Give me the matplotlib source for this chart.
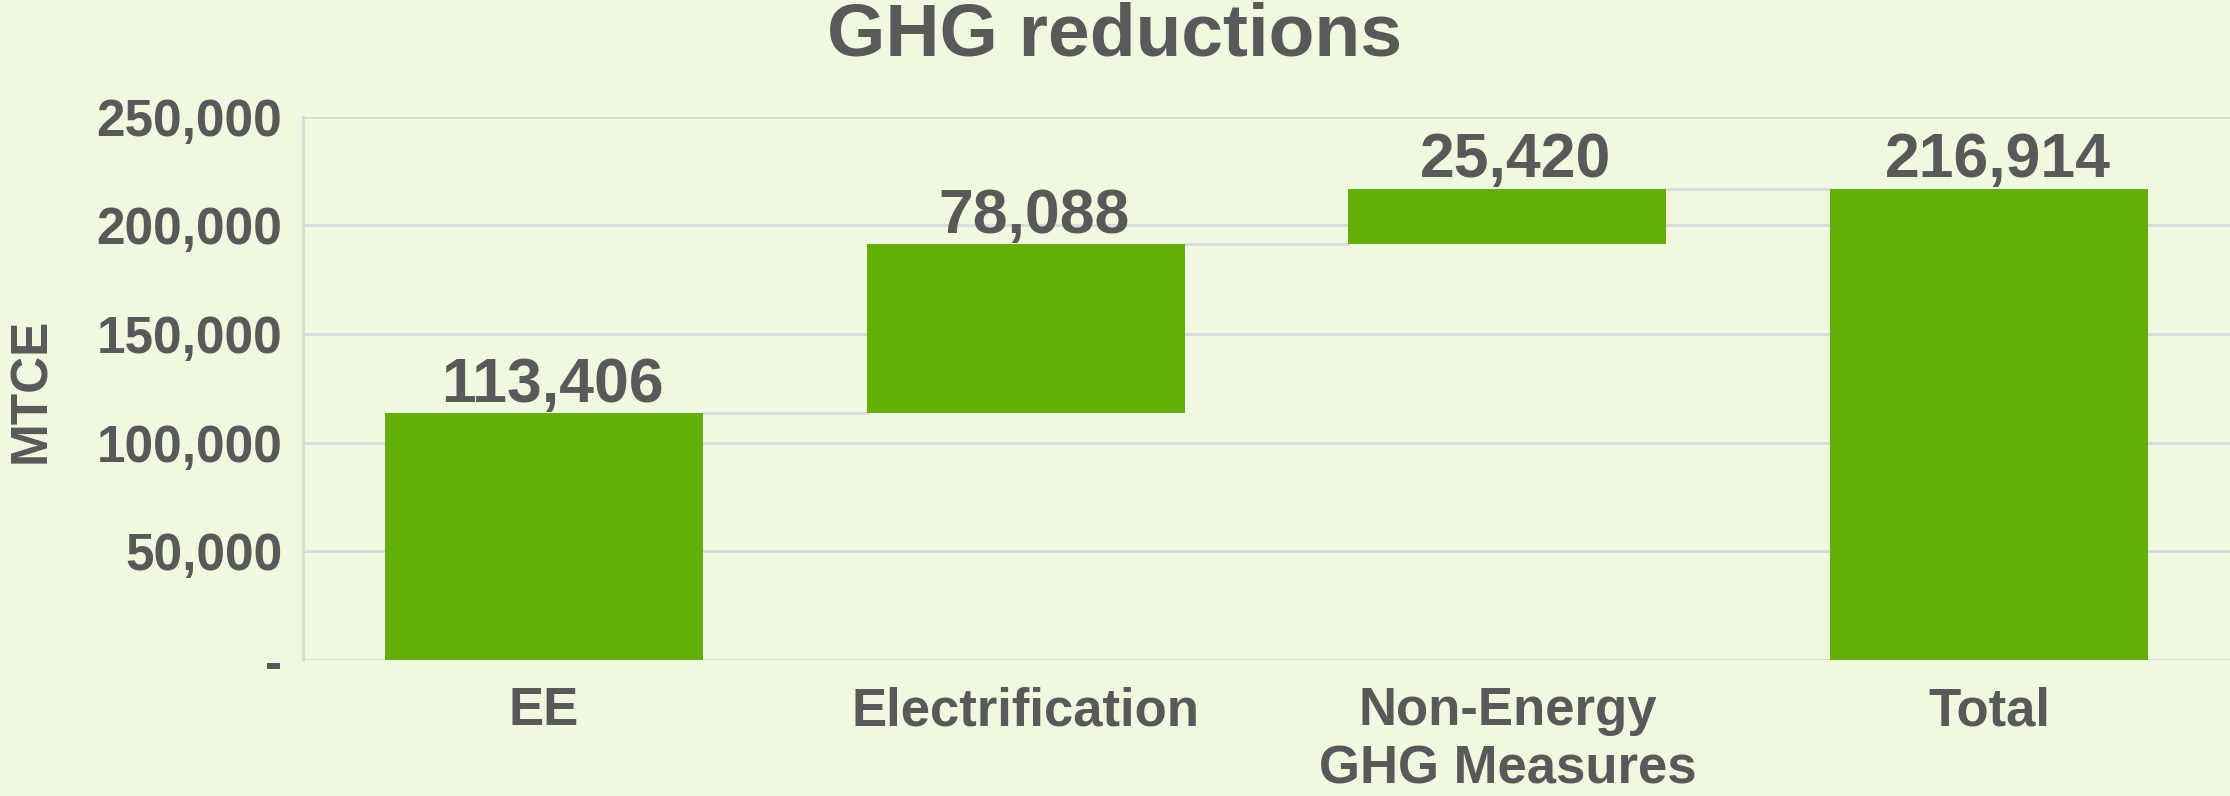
import numpy as np
import matplotlib
matplotlib.use("Agg")
import matplotlib.pyplot as plt
from matplotlib.ticker import FuncFormatter

categories = ["EE", "Electrification", "Non-Energy\nGHG Measures", "Total"]
steps = [113406, 78088, 25420]
total = 216914
y_ticks = [0, 50000, 100000, 150000, 200000, 250000]

BG = "#F0F9DF"
GREEN = "#64AF07"
TEXT = "#595959"
GRID = "#D9D9D9"

plt.rcParams["font.family"] = ["Liberation Sans", "DejaVu Sans"]
plt.rcParams["font.weight"] = "bold"


def fmt(v, pos=None):
    if v == 0:
        return "-"
    return f"{int(v):,}"


def plot_waterfall():
    values = steps + [total]
    bottoms = list(np.concatenate([[0], np.cumsum(steps)[:-1]])) + [0]
    x = np.arange(len(categories))
    width = 0.66

    fig = plt.figure(figsize=(22.3, 7.96), dpi=100)
    fig.patch.set_facecolor(BG)
    ax = fig.add_axes([0.1359, 0.1709, 0.8641, 0.6826])
    ax.set_facecolor(BG)

    ax.bar(x, values, width=width, bottom=bottoms, color=GREEN, zorder=3)

    # connectors between bars
    tops = np.cumsum(steps)
    for i in range(len(steps)):
        ax.plot([x[i] + width / 2, x[i + 1] - width / 2], [tops[i], tops[i]],
                color=GRID, lw=2, zorder=2)

    for xi, b, v in zip(x, bottoms, values):
        ax.annotate(fmt(v), (xi, b + v), xytext=(6, 8), textcoords="offset points",
                    ha="center", va="baseline", fontsize=45,
                    fontweight="bold", color=TEXT)

    ax.set_xlim(-0.5, len(categories) - 0.5)
    ax.set_ylim(0, 250000)
    ax.set_yticks(y_ticks)
    ax.yaxis.set_major_formatter(FuncFormatter(fmt))
    ax.set_xticks(x)
    ax.set_xticklabels(categories, linespacing=1.2)
    ax.tick_params(axis="y", length=0, pad=15, labelsize=37, labelcolor=TEXT)
    ax.tick_params(axis="x", length=0, pad=19, labelsize=38, labelcolor=TEXT)
    ax.grid(axis="y", color=GRID, lw=2, zorder=0)

    for side in ["top", "right", "bottom"]:
        ax.spines[side].set_visible(False)
    ax.spines["left"].set_color(GRID)
    ax.spines["left"].set_linewidth(2)

    fig.text(0.014, 0.51, "MTCE", rotation=90, ha="center", va="center",
             fontsize=37, fontweight="bold", color=TEXT)
    fig.text(0.5, 0.93, "GHG reductions", ha="center", va="baseline",
             fontsize=54, fontweight="bold", color=TEXT)

    fig.savefig("out.png", dpi=100, facecolor=BG)
    plt.close(fig)


if __name__ == "__main__":
    plot_waterfall()
